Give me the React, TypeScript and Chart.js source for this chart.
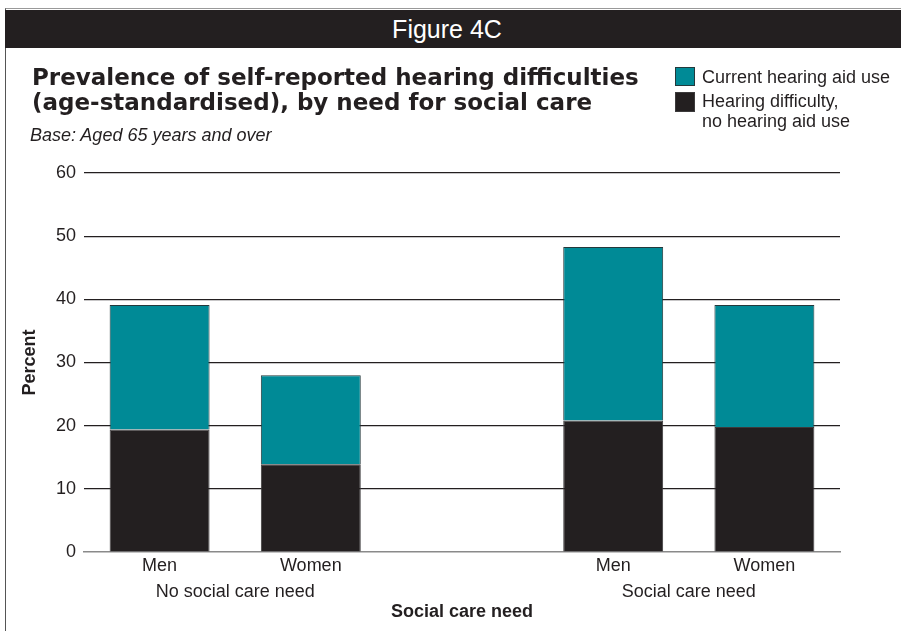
import React, { useEffect, useRef } from "react";
import { Chart, registerables } from "chart.js";

Chart.register(...registerables);

const categories = ["Men", "Women", "", "Men", "Women"];
const groupLabels = ["No social care need", "Social care need"];
const groupPositions = [0.5, 3.5];
const noAidValues = [19.4, 13.9, null, 20.8, 19.8];
const aidValues = [19.7, 14.1, null, 27.5, 19.3];
const seriesNames = ["Hearing difficulty, no hearing aid use", "Current hearing aid use"];
const yMin = 0;
const yMax = 60;
const yStep = 10;

const DARK = "#231F20";
const TEAL = "#008A96";
const SANS = "'Liberation Sans', Arial, sans-serif";

export default function App() {
  const ref = useRef<HTMLCanvasElement | null>(null);

  useEffect(() => {
    if (!ref.current) return;
    const chart = new Chart(ref.current, {
      type: "bar",
      data: {
        labels: categories,
        datasets: [
          {
            label: seriesNames[0],
            data: noAidValues,
            backgroundColor: DARK,
            borderColor: "#3c3a3b",
            borderWidth: 1,
            xAxisID: "x",
          },
          {
            label: seriesNames[1],
            data: aidValues,
            backgroundColor: TEAL,
            borderColor: "#24393c",
            borderWidth: 1,
            xAxisID: "x",
          },
        ],
      },
      options: {
        responsive: false,
        animation: false,
        devicePixelRatio: 1,
        layout: { padding: { top: 173, left: 14, right: 61, bottom: 10 } },
        datasets: { bar: { barPercentage: 0.661, categoryPercentage: 1 } },
        plugins: {
          legend: { display: false },
          tooltip: { enabled: false },
          title: { display: false },
        },
        scales: {
          x: {
            type: "category",
            stacked: true,
            offset: true,
            grid: { display: false, drawTicks: false },
            border: { display: true, color: "#8a8a8a", width: 1.5 },
            ticks: {
              color: DARK,
              font: { family: SANS, size: 18 },
              padding: 3,
              maxRotation: 0,
              autoSkip: false,
            },
            afterFit: (s: any) => {
              s.height = 26;
            },
          },
          x2: {
            type: "linear",
            position: "bottom",
            offset: false,
            min: -0.5,
            max: 4.5,
            grid: { display: false, drawTicks: false },
            border: { display: false },
            afterBuildTicks: (s: any) => {
              s.ticks = groupPositions.map((v) => ({ value: v }));
            },
            ticks: {
              color: DARK,
              font: { family: SANS, size: 18 },
              padding: 3,
              maxRotation: 0,
              autoSkip: false,
              callback: (v: any) => {
                const i = groupPositions.indexOf(Number(v));
                return i >= 0 ? groupLabels[i] : "";
              },
            },
            title: {
              display: true,
              text: "Social care need",
              color: DARK,
              font: { family: SANS, size: 18, weight: "bold", lineHeight: 1 },
              padding: { top: 0, bottom: 0 },
            },
            afterFit: (s: any) => {
              s.height = 43;
            },
          },
          y: {
            stacked: true,
            min: yMin,
            max: yMax,
            ticks: {
              stepSize: yStep,
              padding: 8,
              color: DARK,
              font: { family: SANS, size: 18 },
            },
            grid: {
              drawTicks: false,
              lineWidth: 1.2,
              color: (ctx: any) => (ctx.tick && ctx.tick.value === 0 ? "rgba(0,0,0,0)" : DARK),
            },
            border: { display: false },
            title: {
              display: true,
              text: "Percent",
              color: DARK,
              font: { family: SANS, size: 18, weight: "bold" },
              padding: { top: 5, bottom: 0 },
            },
            afterFit: (s: any) => {
              s.width = 70;
            },
          },
        },
      },
    } as any);
    return () => chart.destroy();
  }, []);

  const abs = (o: React.CSSProperties): React.CSSProperties => ({ position: "absolute", ...o });

  return (
    <div style={abs({ left: 0, top: 0, width: 901, height: 631, background: "#fff", overflow: "hidden" })}>
      <canvas ref={ref} width={901} height={631} style={abs({ left: 0, top: 0, width: 901, height: 631 })} />
      <div
        style={abs({
          left: 5,
          top: 8,
          width: 896,
          height: 623,
          borderLeft: "1.5px solid #555",
          borderTop: "1px solid #999",
          boxSizing: "border-box",
          pointerEvents: "none",
        })}
      />
      <div style={abs({ left: 5, top: 10, width: 896, height: 38, background: DARK })} />
      <div
        style={abs({
          left: 0,
          top: 10,
          width: 894,
          height: 38,
          lineHeight: "38px",
          textAlign: "center",
          color: "#fff",
          fontFamily: SANS,
          fontSize: 25,
        })}
      >
        Figure 4C
      </div>
      <div
        style={abs({
          left: 32,
          top: 65,
          fontFamily: "'DejaVu Sans', sans-serif",
          fontWeight: "bold",
          fontSize: 23,
          lineHeight: "25px",
          color: DARK,
          whiteSpace: "nowrap",
        })}
      >
        Prevalence of self-reported hearing difficulties
        <br />
        (age-standardised), by need for social care
      </div>
      <div
        style={abs({
          left: 30,
          top: 124,
          fontFamily: SANS,
          fontStyle: "italic",
          fontSize: 18,
          lineHeight: "22px",
          color: DARK,
          whiteSpace: "nowrap",
        })}
      >
        Base: Aged 65 years and over
      </div>
      <div style={abs({ left: 675, top: 67, width: 20, height: 19, background: TEAL, border: "1px solid #24393c", boxSizing: "border-box" })} />
      <div style={abs({ left: 675, top: 92, width: 20, height: 20, background: DARK, border: "1px solid #3c3a3b", boxSizing: "border-box" })} />
      <div style={abs({ left: 702, top: 66, fontFamily: SANS, fontSize: 18, lineHeight: "22px", color: DARK, whiteSpace: "nowrap" })}>
        Current hearing aid use
      </div>
      <div style={abs({ left: 702, top: 91, fontFamily: SANS, fontSize: 18, lineHeight: "20px", color: DARK, whiteSpace: "nowrap" })}>
        Hearing difficulty,
        <br />
        no hearing aid use
      </div>
    </div>
  );
}
